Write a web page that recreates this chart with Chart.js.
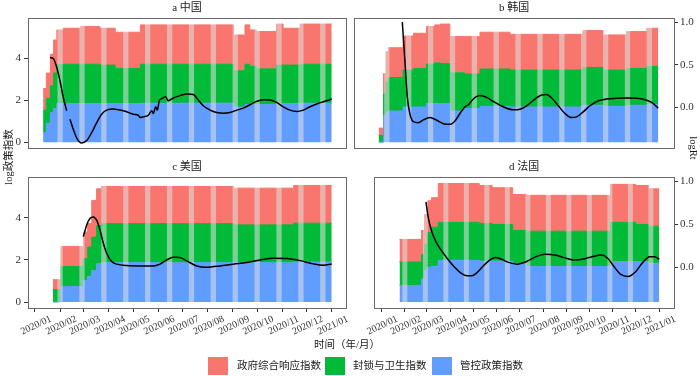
<!DOCTYPE html>
<html>
<head>
<meta charset="utf-8">
<script src="https://cdn.jsdelivr.net/npm/chart.js@4/dist/chart.umd.min.js"></script>
<style>
body{margin:0;background:#fff;}
#wrap{position:relative;width:700px;height:376px;font-family:"Liberation Serif","Noto Sans CJK SC",serif;color:#1a1a1a;}
canvas{position:absolute;}
svg{position:absolute;left:0;top:0;}
.txt{position:absolute;white-space:nowrap;font-size:10.5px;line-height:12px;}
.sw{position:absolute;width:20px;height:18px;top:357px;}
</style>
</head>
<body>
<div id="wrap">
<canvas id="pa" width="350" height="160" style="left:0;top:0"></canvas>
<canvas id="pb" width="350" height="160" style="left:350px;top:0"></canvas>
<canvas id="pc" width="350" height="185" style="left:0;top:158.5px"></canvas>
<canvas id="pd" width="350" height="185" style="left:350px;top:158.5px"></canvas>
<svg width="700" height="376" font-family="Liberation Serif, Noto Sans CJK SC, serif" font-size="10.5" fill="#1a1a1a">
  <text transform="translate(12,157) rotate(-90)" text-anchor="middle">log政策指数</text>
  <text transform="translate(690,148) rotate(90)" text-anchor="middle">logRt</text>
</svg>
<div class="txt" style="left:347px;top:345px;transform:translate(-50%,-50%)">时间（年/月）</div>
<div class="sw" style="left:208px;background:#F8766D"></div>
<div class="txt" style="left:237px;top:360px">政府综合响应指数</div>
<div class="sw" style="left:325px;background:#00BA38"></div>
<div class="txt" style="left:353px;top:360px">封锁与卫生指数</div>
<div class="sw" style="left:432px;background:#619CFF"></div>
<div class="txt" style="left:460px;top:360px">管控政策指数</div>
</div>
<script>
// days since 2020-01-01, month ticks
var monthDays=[0,31,60,91,121,152,182,213,244,274,305,335,366];
var monthLabels=["2020/01","2020/02","2020/03","2020/04","2020/05","2020/06","2020/07","2020/08","2020/09","2020/10","2020/11","2020/12","2021/01"];
var leftTicks=[0,2,4];
var rightTicks=[0,0.5,1];

// a 中国
var aDays=[10,14,19,23,27,35,56,80,99,130,245,259,265,273,298,306,327,366];
var aPolicy=[0.45,0.90,1.40,1.60,1.84,1.84,1.84,1.84,1.84,1.86,1.68,1.80,1.80,1.80,1.84,1.84,1.86,1.86];
var aLockdown=[1.07,1.18,1.30,1.70,1.86,1.88,1.88,1.84,1.68,1.86,1.73,1.92,1.82,1.70,1.84,1.84,1.86,1.86];
var aResponse=[1.04,1.22,1.50,1.58,1.66,1.72,1.80,1.76,1.73,1.88,1.71,1.88,1.74,1.78,1.96,1.76,1.92,1.92];
var aRtDays=[18.5,22.6,26.7,30.8,34.9,39.1,41,43.2,47.3,51.4,57.6,63.8,69.9,76.1,82.2,88.4,96.6,104.8,113.1,121.3,127.5,129.5,133.6,139.8,143.9,146,148.9,150.9,153.3,157,161.2,164.4,170.6,178.9,187.1,195.3,201.4,207.6,215.9,224.1,232.3,240.5,248.8,257,265.2,273.4,281.6,289.8,298.1,306.3,314.5,322.8,331,339.2,347.5,355.7,366];
var aRt=[0.585,0.573,0.474,0.316,0.118,-0.039,null,-0.138,-0.256,-0.355,-0.415,-0.387,-0.296,-0.178,-0.079,-0.031,-0.019,-0.031,-0.051,-0.079,-0.091,-0.118,-0.110,-0.091,-0.039,-0.071,0.008,-0.031,0.079,0.107,0.127,0.079,0.111,0.139,0.159,0.151,0.088,0.020,-0.031,-0.059,-0.067,-0.059,-0.031,-0.008,0.032,0.071,0.091,0.088,0.059,0.008,-0.031,-0.047,-0.031,0.008,0.040,0.067,0.099];

// b 韩国
var bDays=[21,27,30,33,51,64,80,90,97,109,127,146,183,273,298,327,352,366];
var bPolicy=[0,1.28,1.44,1.49,1.68,1.68,1.84,1.84,1.84,1.49,1.60,1.71,1.68,1.76,1.71,1.76,1.79,1.79];
var bLockdown=[0.32,1.04,1.44,1.60,1.76,1.84,1.89,1.95,1.92,1.82,1.65,1.78,1.76,1.81,1.73,1.76,1.83,1.83];
var bResponse=[0.35,0.96,1.44,1.42,1.63,1.68,1.79,1.81,1.88,1.73,1.79,1.76,1.71,1.76,1.68,1.76,1.82,1.82];
var bRtDays=[50.1,52.2,54.3,56.3,59.6,63.7,69.9,76,84.3,92.5,100.7,109,115.1,121.3,127.5,131.6,137.7,146,154.2,162.4,174.7,187.1,195.3,203.6,213.8,222.1,228.3,234.5,242.6,250.9,259.1,265.3,273.4,281.7,292,302.3,314.7,327,339.3,349.6,357.8,366];
var bRt=[1.0,0.711,0.396,0.118,-0.079,-0.166,-0.178,-0.146,-0.118,-0.150,-0.190,-0.198,-0.158,-0.071,0.008,0.032,0.099,0.139,0.118,0.071,0.008,-0.027,-0.020,0.020,0.099,0.147,0.151,0.111,0.020,-0.071,-0.118,-0.110,-0.051,0.020,0.079,0.099,0.107,0.111,0.107,0.091,0.059,-0.008];

// c 美国
var cDays=[22,32,60,65,70,76,82,245,319,366];
var cPolicy=[0,0.74,1.03,1.22,1.50,1.82,1.86,1.86,1.90,1.90];
var cLockdown=[0.59,0.95,1.03,1.39,1.58,1.81,1.86,1.80,1.84,1.84];
var cResponse=[0.47,0.95,1.26,1.11,1.74,1.74,1.76,1.74,1.79,1.79];
var cRtDays=[59.6,63.7,67.8,71.9,76,80.2,84.3,88.4,94.6,100.8,113.1,129.5,146,154.2,162.4,170.6,178.9,187.1,199.5,211.8,228.2,244.6,261.1,277.5,294,310.5,326.9,343.3,355.7,366];
var cRt=[0.353,0.488,0.566,0.584,0.546,0.431,0.277,0.162,0.065,0.035,0.018,0.014,0.014,0.035,0.084,0.115,0.111,0.073,0.014,0.0,0.014,0.035,0.053,0.084,0.104,0.100,0.076,0.038,0.023,0.038];

// d 法国
var dDays=[24,53,57,61,66,75,129,146,173,191,302,335,352,366];
var dPolicy=[0.79,1.10,1.50,1.66,1.70,1.98,1.94,1.94,1.82,1.69,1.92,1.92,1.84,1.84];
var dLockdown=[1.11,1.15,1.25,1.64,1.85,1.80,1.79,1.74,1.58,1.67,1.86,1.76,1.76,1.76];
var dResponse=[1.07,1.15,1.40,1.50,1.40,1.84,1.80,1.74,1.70,1.70,1.80,1.85,1.77,1.77];
var dRtDays=[58.8,61.7,65.8,71.9,80.2,88.4,96.6,104.9,113.1,119.2,125.4,133.6,141.9,150.1,158.3,166.6,178.9,191.3,203.6,215.9,228.3,240.6,253,265.3,277.6,290,298.1,306.4,314.7,324.9,335.2,343.4,353.7,359.8,366];
var dRt=[0.758,0.584,0.431,0.296,0.180,0.084,0.0,-0.069,-0.100,-0.100,-0.069,0.007,0.076,0.111,0.092,0.058,0.035,0.065,0.122,0.150,0.142,0.111,0.084,0.092,0.122,0.142,0.104,0.007,-0.081,-0.108,-0.050,0.046,0.122,0.122,0.092];

var RED="#F8766D", GREEN="#00BA38", BLUE="#619CFF";
var serif='"Liberation Serif","Noto Sans CJK SC",serif';
// light bands seen in the bars
var stripeStart=31, stripeStep=27, stripeCount=13, stripeWidth=6.5;

function pts(days,vals){
  return days.map(function(d,i){return {x:d,y:vals[i]};});
}

var stripes={
  id:"stripes",
  beforeDatasetDraw:function(chart,args){
    if(args.index!==3) return;
    var ctx=chart.ctx, ca=chart.chartArea, xs=chart.scales.x;
    ctx.save();
    ctx.beginPath();
    ctx.rect(ca.left+1,ca.top+1,ca.right-ca.left-2,ca.bottom-ca.top-2);
    ctx.clip();
    ctx.globalCompositeOperation="source-atop";
    ctx.fillStyle="rgba(225,225,225,0.55)";
    for(var k=0;k<stripeCount;k++){
      var c=stripeStart+k*stripeStep;
      var x0=xs.getPixelForValue(c-stripeWidth/2), x1=xs.getPixelForValue(c+stripeWidth/2);
      ctx.fillRect(x0,ca.top,x1-x0,ca.bottom-ca.top);
    }
    ctx.restore();
  },
  afterDraw:function(chart){
    var ctx=chart.ctx, ca=chart.chartArea;
    ctx.save();
    ctx.strokeStyle="#6a6a6a";
    ctx.lineWidth=1;
    var l=Math.round(ca.left)+0.5, t=Math.round(ca.top)+0.5;
    ctx.strokeRect(l,t,Math.round(ca.right)-Math.round(ca.left),Math.round(ca.bottom)-Math.round(ca.top));
    ctx.restore();
  }
};

function makePanel(id,title,days,policy,lockdown,response,rtDays,rt,opt){
  new Chart(document.getElementById(id),{
    type:"line",
    data:{datasets:[
      {data:pts(days,policy),backgroundColor:BLUE,borderColor:BLUE,borderWidth:1,stepped:true,fill:"origin",pointRadius:0,order:1,yAxisID:"y"},
      {data:pts(days,lockdown),backgroundColor:GREEN,borderColor:GREEN,borderWidth:1,stepped:true,fill:"-1",pointRadius:0,order:1,yAxisID:"y"},
      {data:pts(days,response),backgroundColor:RED,borderColor:RED,borderWidth:1,stepped:true,fill:"-1",pointRadius:0,order:1,yAxisID:"y"},
      {data:pts(rtDays,rt),borderColor:"#000",borderWidth:1.5,fill:false,pointRadius:0,tension:0.4,cubicInterpolationMode:"monotone",spanGaps:false,order:0,yAxisID:"y1"}
    ]},
    options:{
      responsive:false,animation:false,devicePixelRatio:1,
      layout:{padding:opt.padding},
      plugins:{
        legend:{display:false},tooltip:{enabled:false},
        title:{display:true,text:title,fullSize:false,color:"#1a1a1a",font:{family:serif,size:11,weight:"normal"},padding:{top:2,bottom:3}}
      },
      scales:{
        x:{type:"linear",min:opt.xmin,max:opt.xmax,display:opt.showX,
          grid:{display:true,drawOnChartArea:false,drawTicks:true,tickLength:4,color:"#333"},
          border:{display:false},
          afterBuildTicks:function(s){s.ticks=monthDays.map(function(v){return {value:v};});},
          afterFit:function(s){if(opt.showX) s.height=36;},
          ticks:{autoSkip:false,minRotation:25,maxRotation:25,labelOffset:16,padding:1,color:"#333",font:{family:serif,size:10},
            callback:function(v,i){return monthLabels[i];}}
        },
        y:{type:"linear",stacked:true,min:-0.28,max:5.92,display:opt.showLeft,position:"left",
          grid:{display:true,drawOnChartArea:false,drawTicks:true,tickLength:4,color:"#333"},
          border:{display:false},
          afterBuildTicks:function(s){s.ticks=leftTicks.map(function(v){return {value:v};});},
          afterFit:function(s){if(opt.showLeft) s.width=28;},
          ticks:{padding:3,color:"#333",font:{family:serif,size:11},callback:function(v){return String(v);}}
        },
        y1:{type:"linear",min:-0.475,max:1.046,display:opt.showRight,position:"right",
          grid:{display:true,drawOnChartArea:false,drawTicks:true,tickLength:4,color:"#333"},
          border:{display:false},
          afterBuildTicks:function(s){s.ticks=rightTicks.map(function(v){return {value:v};});},
          afterFit:function(s){if(opt.showRight) s.width=26;},
          ticks:{padding:2,color:"#333",font:{family:serif,size:11},callback:function(v){return v.toFixed(1);}}
        }
      }
    },
    plugins:[stripes]
  });
}

makePanel("pa","a 中国",aDays,aPolicy,aLockdown,aResponse,aRtDays,aRt,
  {padding:{right:4,bottom:12},xmin:-8.6,xmax:383.6,showX:false,showLeft:true,showRight:false});
makePanel("pb","b 韩国",bDays,bPolicy,bLockdown,bResponse,bRtDays,bRt,
  {padding:{left:4,bottom:12},xmin:-9.5,xmax:385.4,showX:false,showLeft:false,showRight:true});
makePanel("pc","c 美国",cDays,cPolicy,cLockdown,cResponse,cRtDays,cRt,
  {padding:{right:4},xmin:-8.6,xmax:383.6,showX:true,showLeft:true,showRight:false});
makePanel("pd","d 法国",dDays,dPolicy,dLockdown,dResponse,dRtDays,dRt,
  {padding:{left:4},xmin:-9.5,xmax:385.4,showX:true,showLeft:false,showRight:true});
</script>
</body>
</html>
